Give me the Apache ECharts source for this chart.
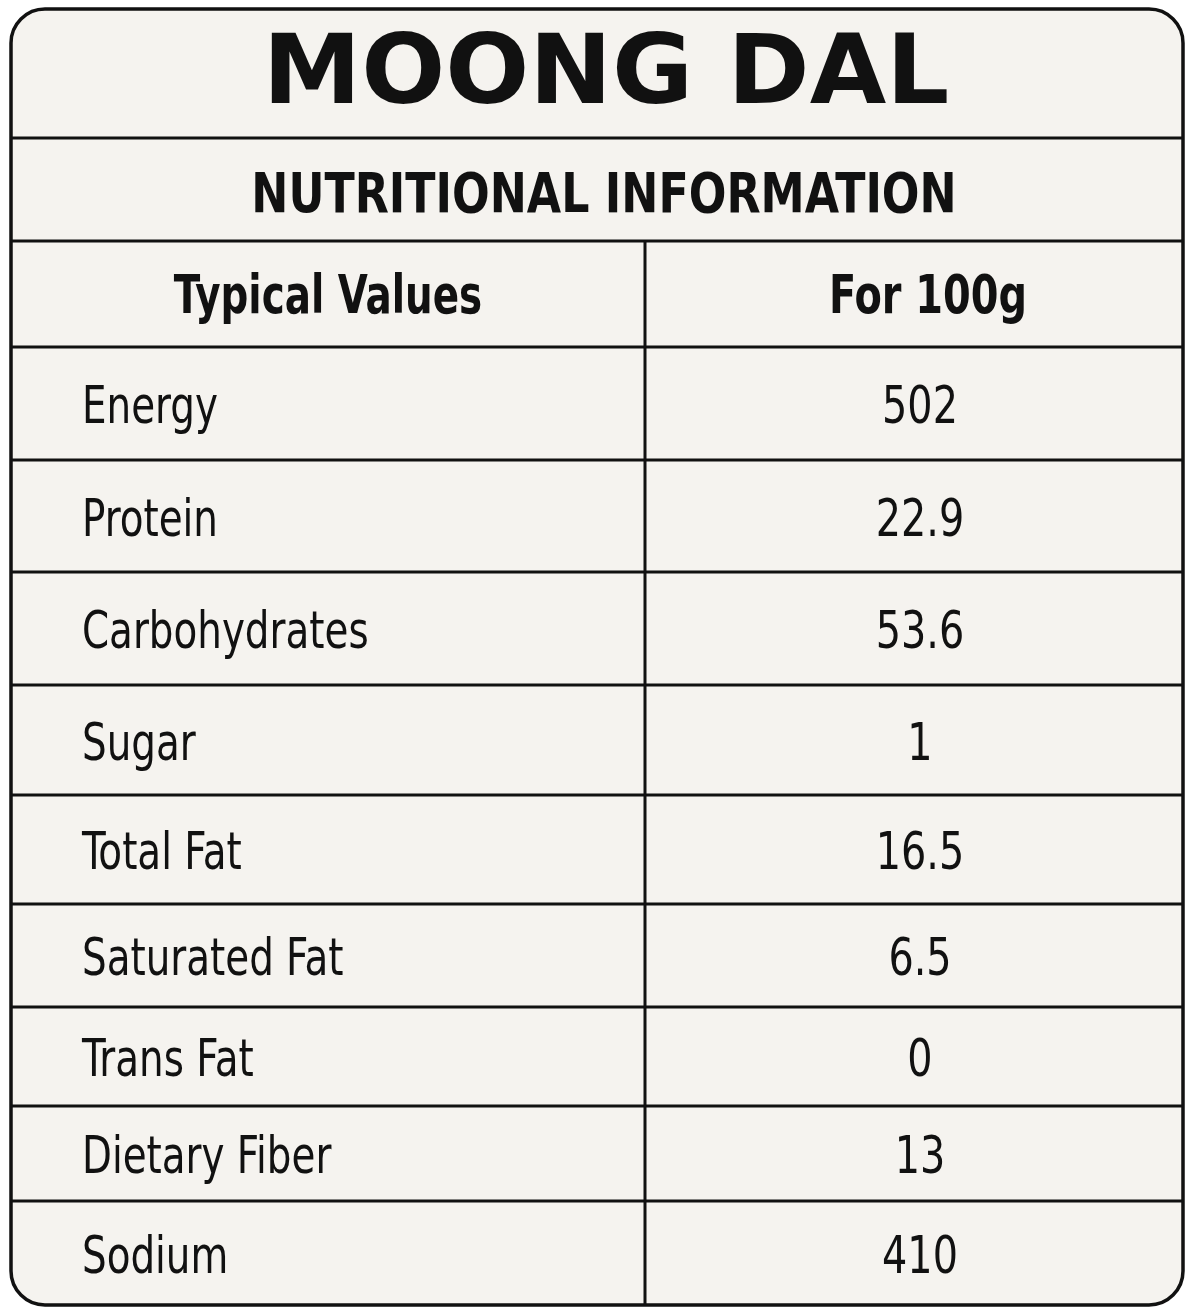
<!DOCTYPE html>
<html><head><meta charset="utf-8">
<script src="https://cdn.jsdelivr.net/npm/echarts@6/dist/echarts.min.js"></script>
<style>html,body{margin:0;padding:0;background:#fff}#c{width:1195px;height:1316px}</style>
</head><body><div id="c"></div>
<script>
const title = "MOONG DAL";
const subtitle = "NUTRITIONAL INFORMATION";
const headers = ["Typical Values", "For 100g"];
const nutrients = ["Energy","Protein","Carbohydrates","Sugar","Total Fat","Saturated Fat","Trans Fat","Dietary Fiber","Sodium"];
const values = ["502","22.9","53.6","1","16.5","6.5","0","13","410"];

const L=11, R=1183, T=9, B=1305, MID=645;
const lines=[138,241,347,460,572,685,795,904,1007,1106,1201];
const bounds=lines.concat([B]);
const cond="'DejaVu Sans Condensed','DejaVu Sans',sans-serif";
const els=[];
function txt(x,y,s,font,align,sx){
  els.push({type:'text',x:x,y:y,scaleX:sx,originX:0,originY:0,
    style:{text:s,font:font,fill:'#111',align:align,verticalAlign:'middle'}});
}
els.push({type:'rect',shape:{x:L,y:T,width:R-L,height:B-T,r:34},style:{fill:'#f5f3ef',stroke:'#111',lineWidth:3.5}});
lines.forEach(y=>els.push({type:'line',shape:{x1:L,y1:y,x2:R,y2:y},style:{stroke:'#111',lineWidth:3}}));
els.push({type:'line',shape:{x1:MID,y1:241,x2:MID,y2:B},style:{stroke:'#111',lineWidth:3}});
txt(606,78,title,"bold 96px 'DejaVu Sans',sans-serif",'center',1.03);
txt(604,197,subtitle,"bold 56px "+cond,'center',0.88);
txt(328,299,headers[0],"bold 54px "+cond,'center',0.8);
txt(928,299,headers[1],"bold 54px "+cond,'center',0.82);
nutrients.forEach((n,i)=>{
  const cy=(bounds[i+2]+bounds[i+3])/2+6;
  txt(82,cy,n,"52px "+cond,'left',0.83);
  txt(920,cy,values[i],"52px "+cond,'center',0.85);
});
const chart=echarts.init(document.getElementById('c'));
chart.setOption({animation:false,graphic:{elements:els}});
</script></body></html>
